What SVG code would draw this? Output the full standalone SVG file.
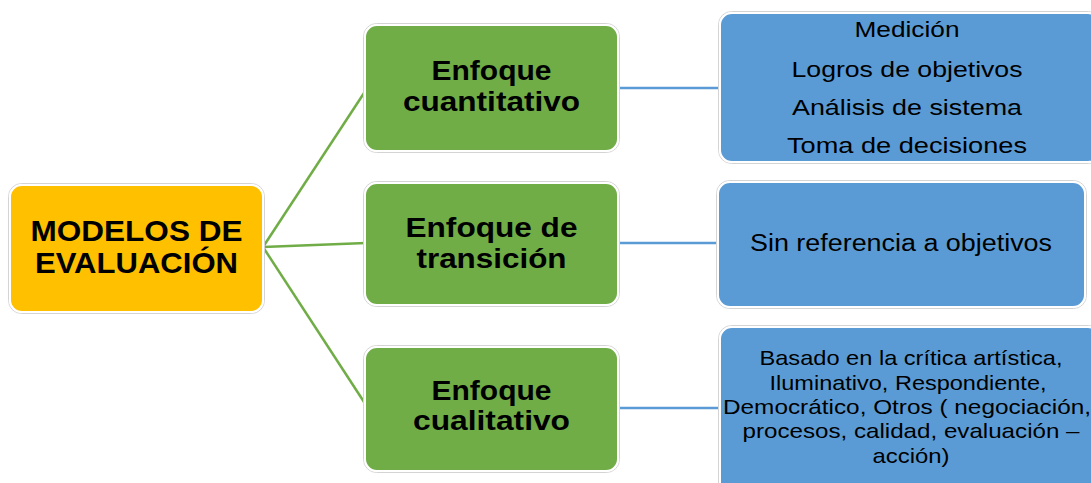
<svg xmlns="http://www.w3.org/2000/svg" width="1091" height="483" viewBox="0 0 1091 483">
<style>
.halo{fill:none;stroke:#d4d4d4;stroke-width:1}
.root{fill:#FFC000;stroke:#ffffff;stroke-width:2}
.grn{fill:#70AD47;stroke:#ffffff;stroke-width:2}
.blu{fill:#5B9BD5;stroke:#ffffff;stroke-width:2}
.big{font-family:"Liberation Sans",Arial,sans-serif;font-weight:bold;fill:#000;text-anchor:middle}
.sm{font-family:"Liberation Sans",Arial,sans-serif;fill:#000;text-anchor:middle}
.cg{stroke:#70AD47;stroke-width:2.5;fill:none}
.cb{stroke:#5B9BD5;stroke-width:2.5;fill:none}
</style>
<rect width="1091" height="483" fill="#ffffff"/>
<g id="connectors">
<line class="cg" x1="263" y1="247" x2="366" y2="90"/>
<line class="cg" x1="263" y1="247" x2="366" y2="243"/>
<line class="cg" x1="263" y1="247" x2="366" y2="405"/>
<line class="cb" x1="617" y1="88" x2="721" y2="88"/>
<line class="cb" x1="617" y1="243" x2="719" y2="243"/>
<line class="cb" x1="617" y1="408" x2="721" y2="408"/>
</g>
<g id="root">
<rect class="halo" x="8.5" y="183.5" width="256" height="130" rx="13"/>
<rect class="root" x="10" y="185" width="253" height="127" rx="12"/>
<text class="big" font-size="30" x="136.5" y="241" textLength="212" lengthAdjust="spacingAndGlyphs">MODELOS DE</text>
<text class="big" font-size="30" x="136.5" y="273" textLength="203" lengthAdjust="spacingAndGlyphs">EVALUACIÓN</text>
</g>
<g id="cuantitativo">
<rect class="halo" x="363.5" y="23.5" width="256" height="129" rx="13"/>
<rect class="grn" x="365" y="25" width="253" height="126" rx="12"/>
<text class="big" font-size="28" x="491.5" y="80" textLength="120" lengthAdjust="spacingAndGlyphs">Enfoque</text>
<text class="big" font-size="28" x="491.5" y="111" textLength="177" lengthAdjust="spacingAndGlyphs">cuantitativo</text>
</g>
<g id="transicion">
<rect class="halo" x="363.5" y="181.5" width="256" height="125" rx="13"/>
<rect class="grn" x="365" y="183" width="253" height="122" rx="12"/>
<text class="big" font-size="28" x="491.5" y="237" textLength="172" lengthAdjust="spacingAndGlyphs">Enfoque de</text>
<text class="big" font-size="28" x="491.5" y="268" textLength="150" lengthAdjust="spacingAndGlyphs">transición</text>
</g>
<g id="cualitativo">
<rect class="halo" x="363.5" y="345.5" width="256" height="127" rx="13"/>
<rect class="grn" x="365" y="347" width="253" height="124" rx="12"/>
<text class="big" font-size="28" x="491.5" y="400" textLength="120" lengthAdjust="spacingAndGlyphs">Enfoque</text>
<text class="big" font-size="28" x="491.5" y="430" textLength="157" lengthAdjust="spacingAndGlyphs">cualitativo</text>
</g>
<g id="detalle-cuantitativo">
<rect class="halo" x="718.5" y="11.5" width="383" height="152" rx="13"/>
<rect class="blu" x="720" y="13" width="380" height="149" rx="12"/>
<text class="sm" font-size="22" x="907" y="37" textLength="105" lengthAdjust="spacingAndGlyphs">Medición</text>
<text class="sm" font-size="22" x="907" y="77" textLength="231" lengthAdjust="spacingAndGlyphs">Logros de objetivos</text>
<text class="sm" font-size="22" x="907" y="115" textLength="230" lengthAdjust="spacingAndGlyphs">Análisis de sistema</text>
<text class="sm" font-size="22" x="907" y="153" textLength="240" lengthAdjust="spacingAndGlyphs">Toma de decisiones</text>
</g>
<g id="detalle-transicion">
<rect class="halo" x="716.5" y="180.5" width="370" height="128" rx="13"/>
<rect class="blu" x="718" y="182" width="367" height="125" rx="12"/>
<text class="sm" font-size="23" x="901" y="251" textLength="302" lengthAdjust="spacingAndGlyphs">Sin referencia a objetivos</text>
</g>
<g id="detalle-cualitativo">
<rect class="halo" x="718.5" y="325.5" width="383" height="173" rx="13"/>
<rect class="blu" x="720" y="327" width="380" height="170" rx="12"/>
<text class="sm" font-size="21" x="911" y="365" textLength="303" lengthAdjust="spacingAndGlyphs">Basado en la crítica artística,</text>
<text class="sm" font-size="21" x="908" y="390" textLength="277" lengthAdjust="spacingAndGlyphs">Iluminativo, Respondiente,</text>
<text class="sm" font-size="21" x="907" y="414" textLength="368" lengthAdjust="spacingAndGlyphs">Democrático, Otros ( negociación,</text>
<text class="sm" font-size="21" x="911" y="438" textLength="337" lengthAdjust="spacingAndGlyphs">procesos, calidad, evaluación –</text>
<text class="sm" font-size="21" x="911" y="463" textLength="77" lengthAdjust="spacingAndGlyphs">acción)</text>
</g>
</svg>
